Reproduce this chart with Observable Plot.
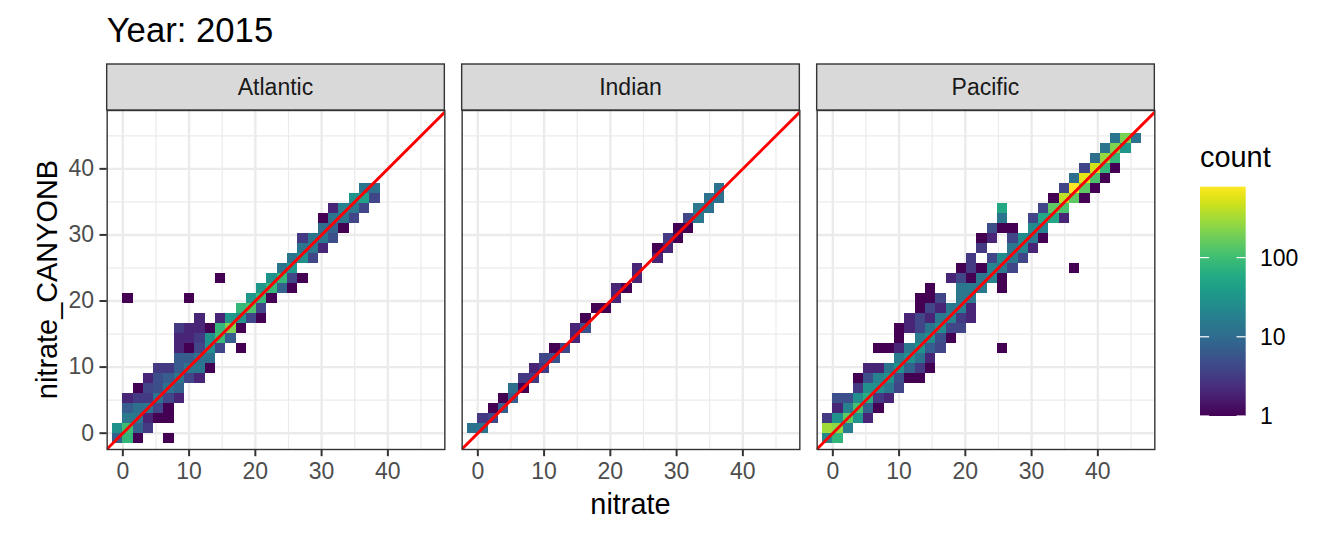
<!DOCTYPE html>
<html>
<head>
<meta charset="utf-8">
<script src="https://cdn.jsdelivr.net/npm/d3@7"></script>
<script src="https://cdn.jsdelivr.net/npm/@observablehq/plot@0.6"></script>
<style>
  body { margin: 0; background: #ffffff; }
  #chart { position: relative; width: 1344px; height: 537px; }
</style>
</head>
<body>
<div id="chart"></div>
<script>
// ---------------- data ----------------
const titleText = "Year: 2015";
const oceans = ["Atlantic", "Indian", "Pacific"];
const xLabel = "nitrate";
const yLabel = "nitrate_CANYONB";
const legendTitle = "count";
const nitrateBinWidth = 1.553;   // bin width along nitrate
const canyonBinWidth = 1.512;    // bin width along nitrate_CANYONB
const countMax = 785;
const majorTicks = [0, 10, 20, 30, 40];
const minorTicks = [5, 15, 25, 35, 45];
const xDomain = [-2.365, 48.6];
const yDomain = [-2.47, 48.83];
const legendBreaks = [1, 10, 100];
const oneToOne = [-10, 60]; // y = x reference line, clipped to panel

// cells: [nitrate bin index, nitrate_CANYONB bin index, count]
const atlanticCells = [
  [-1,-1,8],[0,-1,80],[1,-1,1],[4,-1,1],
  [-1,0,30],[0,0,100],[1,0,8],[2,0,3],
  [0,1,14],[1,1,14],[2,1,2],[3,1,1],[4,1,1],
  [0,2,7],[1,2,11],[2,2,13],[3,2,4],[4,2,1],
  [0,3,2],[1,3,3],[2,3,3],[3,3,12],[4,3,4],[5,3,2],
  [1,4,1],[2,4,4],[3,4,5],[4,4,12],[5,4,8],
  [2,5,2],[3,5,5],[4,5,7],[5,5,13],[6,5,4],[7,5,2],
  [3,6,3],[4,6,3],[5,6,7],[6,6,13],[7,6,13],[8,6,1],
  [5,7,7],[6,7,7],[7,7,12],[8,7,11],
  [5,8,2],[6,8,1],[7,8,4],[8,8,28],[9,8,4],[11,8,1],
  [5,9,2],[6,9,2],[7,9,3],[8,9,30],[9,9,90],[10,9,7],
  [5,10,3],[6,10,2],[7,10,2],[8,10,1],[9,10,85],[10,10,210],[11,10,1],
  [7,11,2],[9,11,2],[10,11,35],[11,11,30],[12,11,4],[13,11,1],
  [11,12,85],[12,12,120],[13,12,4],
  [0,13,1],[6,13,1],[12,13,35],[13,13,85],[14,13,1],
  [13,14,35],[14,14,85],[15,14,8],[16,14,1],
  [9,15,1],[14,15,30],[15,15,85],[16,15,4],[17,15,1],
  [15,16,13],[16,16,35],
  [16,17,13],[17,17,28],[18,17,4],
  [17,18,13],[18,18,14],[19,18,2],
  [17,19,3],[18,19,13],[19,19,13],[20,19,5],
  [19,20,11],[20,20,8],[21,20,1],
  [19,21,1],[20,21,13],[21,21,13],[22,21,4],
  [20,22,2],[21,22,18],[22,22,14],[23,22,4],
  [22,23,30],[23,23,45],[24,23,4],
  [23,24,13],[24,24,12]
];

const indianCells = [
  [-1,0,12],[0,0,12],
  [0,1,3],[1,1,4],
  [1,2,1],[2,2,7],
  [2,3,1],[3,3,7],
  [3,4,11],[4,4,1],
  [4,5,3],[5,5,3],
  [5,6,2],[6,6,3],
  [6,7,4],[7,7,5],
  [7,8,1],[8,8,4],
  [9,9,2],
  [9,10,2],[10,10,5],
  [10,11,1],
  [11,12,1],[12,12,1],
  [13,13,2],
  [13,14,2],[14,14,1],
  [15,15,2],
  [15,16,2],
  [17,17,2],
  [17,18,1],[18,18,2],
  [18,19,3],[19,19,1],
  [19,20,1],[20,20,1],
  [20,21,4],[21,21,14],
  [21,22,14],[22,22,12],
  [22,23,12],[23,23,11],
  [23,24,12]
];

const pacificCells = [
  [-1,-1,22],[0,-1,80],
  [-1,0,300],[0,0,250],[1,0,16],
  [-1,1,3],[0,1,30],[1,1,150],[2,1,32],[3,1,2],
  [0,2,2],[1,2,18],[2,2,110],[3,2,8],[4,2,1],
  [0,3,5],[1,3,5],[2,3,26],[3,3,65],[4,3,3],[5,3,2],
  [2,4,3],[3,4,28],[4,4,27],[5,4,14],[6,4,4],
  [2,5,1],[3,5,5],[4,5,19],[5,5,30],[6,5,5],[7,5,1],[8,5,1],
  [3,6,2],[4,6,2],[5,6,13],[6,6,30],[7,6,8],[8,6,3],[9,6,1],
  [6,7,16],[7,7,27],[8,7,12],[9,7,2],
  [4,8,1],[5,8,1],[6,8,2],[7,8,14],[8,8,30],[9,8,7],[10,8,4],[16,8,1],
  [6,9,1],[8,9,16],[9,9,25],[10,9,5],[11,9,1],
  [6,10,1],[7,10,2],[8,10,4],[9,10,13],[10,10,25],[11,10,4],[12,10,4],
  [7,11,2],[8,11,4],[9,11,2],[10,11,14],[11,11,19],[12,11,3],[13,11,2],
  [8,12,1],[9,12,4],[10,12,2],[11,12,14],[12,12,17],[13,12,2],
  [8,13,1],[9,13,1],[10,13,4],[12,13,14],[13,13,14],
  [9,14,1],[12,14,14],[13,14,15],[14,14,14],[16,14,1],
  [11,15,2],[12,15,4],[13,15,1],[14,15,14],[15,15,20],[16,15,1],
  [12,16,1],[13,16,3],[14,16,1],[15,16,20],[16,16,14],[17,16,4],[23,16,1],
  [13,17,3],[15,17,4],[16,17,25],[17,17,14],[18,17,4],
  [14,18,3],[17,18,14],[18,18,20],[19,18,2],
  [14,19,1],[15,19,2],[17,19,4],[18,19,25],[19,19,14],[20,19,1],
  [15,20,5],[16,20,1],[17,20,1],[19,20,25],[20,20,18],
  [16,21,13],[19,21,4],[20,21,55],[21,21,55],[22,21,2],
  [16,22,55],[20,22,4],[21,22,150],[22,22,120],
  [21,23,1],[22,23,400],[23,23,150],[24,23,1],
  [22,24,4],[23,24,785],[24,24,150],[25,24,1],
  [23,25,11],[24,25,600],[25,25,120],[26,25,1],
  [24,26,4],[25,26,480],[26,26,85],[27,26,1],
  [25,27,11],[26,27,270],[27,27,85],
  [26,28,13],[27,28,215],[28,28,35],
  [27,29,13],[28,29,200],[29,29,12]
];

// ---------------- build tables ----------------
const cellSets = {Atlantic: atlanticCells, Indian: indianCells, Pacific: pacificCells};
const cells = [];
for (const ocean of oceans) {
  for (const [i, j, c] of cellSets[ocean]) {
    cells.push({
      ocean,
      x1: i * nitrateBinWidth, x2: (i + 1) * nitrateBinWidth,
      y1: j * canyonBinWidth, y2: (j + 1) * canyonBinWidth,
      count: c
    });
  }
}
const refLine = oceans.flatMap(ocean => oneToOne.map(v => ({ocean, v})));

const FONT = "'Liberation Sans', Arial, Helvetica, sans-serif";
const W = 1344, H = 537;
const gridColor = "#ebebeb";
const darkLine = "#333333";

const chartSvg = Plot.plot({
  width: W,
  height: H,
  marginTop: 110,
  marginBottom: 88,
  marginLeft: 106.67,
  marginRight: 189.67,
  style: {fontFamily: FONT, background: "transparent", overflow: "visible"},
  x: {domain: xDomain, label: null},
  y: {domain: yDomain, label: null},
  fx: {domain: oceans, paddingInner: 0.0488, paddingOuter: 0, round: false, axis: null, label: null},
  color: {type: "log", scheme: "viridis", domain: [1, countMax]},
  marks: [
    Plot.gridX({ticks: minorTicks, stroke: gridColor, strokeOpacity: 1, strokeWidth: 1.2}),
    Plot.gridY({ticks: minorTicks, stroke: gridColor, strokeOpacity: 1, strokeWidth: 1.2}),
    Plot.gridX({ticks: majorTicks, stroke: gridColor, strokeOpacity: 1, strokeWidth: 2.4}),
    Plot.gridY({ticks: majorTicks, stroke: gridColor, strokeOpacity: 1, strokeWidth: 2.4}),
    Plot.rect(cells, {x1: "x1", x2: "x2", y1: "y1", y2: "y2", fill: "count", fx: "ocean", shapeRendering: "crispEdges"}),
    Plot.line(refLine, {x: "v", y: "v", z: "ocean", fx: "ocean", stroke: "#ff0000", strokeWidth: 2.9, clip: true}),
    Plot.frame({stroke: darkLine, strokeWidth: 1.4}),
    Plot.axisX({ticks: majorTicks, tickSize: 7.2, tickPadding: 5.8, fontSize: 23, fill: "#4d4d4d", stroke: darkLine, strokeWidth: 2, label: null}),
    Plot.axisY({ticks: majorTicks, tickSize: 7.2, tickPadding: 5.8, fontSize: 23, fill: "#4d4d4d", stroke: darkLine, strokeWidth: 2, label: null})
  ]
});

document.getElementById("chart").append(chartSvg);

// ---------------- decorations (strips, titles, legend) ----------------
const svgSel = d3.select(chartSvg);
const svgBox = chartSvg.getBoundingClientRect();
let panelBoxes = Array.from(chartSvg.querySelectorAll('[aria-label="frame"]'))
  .map(el => el.tagName.toLowerCase() === "rect" ? el : el.querySelector("rect"))
  .filter(Boolean)
  .map(r => { const b = r.getBoundingClientRect(); return {x: b.left - svgBox.left, y: b.top - svgBox.top, w: b.width, h: b.height}; });
if (panelBoxes.length !== oceans.length) {
  const band = d3.scaleBand().domain(oceans).range([106.67, W - 189.67]).paddingInner(0.0488).paddingOuter(0);
  panelBoxes = oceans.map(o => ({x: band(o), y: 110, w: band.bandwidth(), h: H - 110 - 88}));
}

const deco = svgSel.append("g").attr("font-family", FONT).attr("text-anchor", "start");
const stripH = 46;
panelBoxes.forEach((b, k) => {
  deco.append("rect")
    .attr("x", b.x).attr("y", b.y - stripH).attr("width", b.w).attr("height", stripH)
    .attr("fill", "#d9d9d9").attr("stroke", darkLine).attr("stroke-width", 1.4);
  deco.append("text")
    .attr("x", b.x + b.w / 2).attr("y", b.y - 15)
    .attr("text-anchor", "middle").attr("font-size", 23).attr("fill", "#1a1a1a")
    .text(oceans[k]);
});

const pLeft = panelBoxes[0].x;
const pRight = panelBoxes[panelBoxes.length - 1].x + panelBoxes[panelBoxes.length - 1].w;
const pTop = panelBoxes[0].y;
const pBottom = panelBoxes[0].y + panelBoxes[0].h;

// Title
deco.append("text").attr("x", pLeft).attr("y", 41.7)
  .attr("text-anchor", "start").attr("font-size", 34.7).attr("fill", "#000").text(titleText);

// Axis titles
deco.append("text").attr("x", (pLeft + pRight) / 2).attr("y", pBottom + 65)
  .attr("text-anchor", "middle").attr("font-size", 28.9).attr("fill", "#000").text(xLabel);
deco.append("text")
  .attr("transform", `translate(56.5,${(pTop + pBottom) / 2}) rotate(-90)`)
  .attr("text-anchor", "middle").attr("font-size", 28.9).attr("fill", "#000").text(yLabel);

// Colour bar legend
const cs = chartSvg.scale("color");
const barX = 1200, barW = 45.7, barTop = 186.7, barBottom = 416;
const ly = d3.scaleLog().domain([1, countMax]).range([barBottom, barTop]);
const defs = svgSel.append("defs");
const grad = defs.append("linearGradient").attr("id", "countGrad")
  .attr("x1", 0).attr("y1", 1).attr("x2", 0).attr("y2", 0);
const nStops = 40;
for (let s = 0; s <= nStops; s++) {
  const t = s / nStops;
  const v = Math.pow(10, t * Math.log10(countMax));
  grad.append("stop").attr("offset", t).attr("stop-color", cs.apply(v));
}
deco.append("text").attr("x", barX).attr("y", 166.7)
  .attr("text-anchor", "start").attr("font-size", 28.9).attr("fill", "#000").text(legendTitle);
deco.append("rect").attr("x", barX).attr("y", barTop).attr("width", barW).attr("height", barBottom - barTop)
  .attr("fill", "url(#countGrad)");
for (const b of legendBreaks) {
  const yy = ly(b);
  deco.append("line").attr("x1", barX).attr("x2", barX + barW / 5).attr("y1", yy).attr("y2", yy)
    .attr("stroke", "#ffffff").attr("stroke-width", 1.2);
  deco.append("line").attr("x1", barX + barW - barW / 5).attr("x2", barX + barW).attr("y1", yy).attr("y2", yy)
    .attr("stroke", "#ffffff").attr("stroke-width", 1.2);
  deco.append("text").attr("x", 1260).attr("y", yy).attr("dy", "0.36em")
    .attr("text-anchor", "start").attr("font-size", 23).attr("fill", "#000").text(String(b));
}
</script>
</body>
</html>
